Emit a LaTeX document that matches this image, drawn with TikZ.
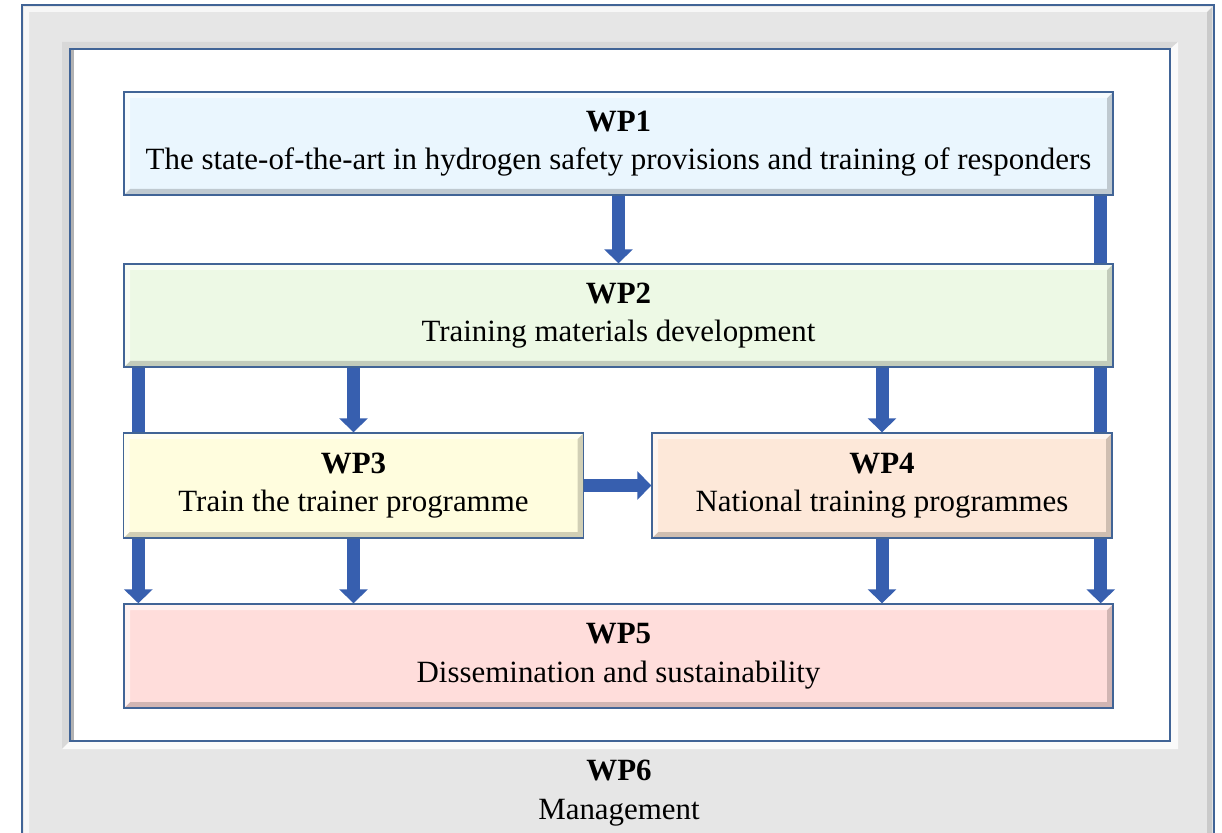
\documentclass[tikz,border=0pt]{standalone}
\usepackage{fontspec}
\setmainfont{Liberation Serif}
\definecolor{WpEdge}{RGB}{65,100,150}
\definecolor{WpArrow}{RGB}{55,95,175}
\definecolor{WpFrame}{RGB}{230,230,230}
\definecolor{WpBlue}{RGB}{234,246,254}
\definecolor{WpGreen}{RGB}{237,249,229}
\definecolor{WpYellow}{RGB}{255,253,222}
\definecolor{WpPeach}{RGB}{253,232,217}
\definecolor{WpPink}{RGB}{255,221,219}
\usepackage{tikz}
\usetikzlibrary{
    arrows.meta,
    positioning,
    calc,
    backgrounds,
}
\pgfdeclarelayer{arrowlayer}
\pgfsetlayers{background,arrowlayer,main}

\tikzset{
    wpbox/.style={draw=WpEdge, line width=0.8pt, align=center,
        font=\fontsize{17.6}{22}\selectfont,
        path picture={
            \fill[black, opacity=0.18] (path picture bounding box.south west)
                -- (path picture bounding box.south east)
                -- (path picture bounding box.north east)
                -- ($(path picture bounding box.north east)+(-0.12,-0.12)$)
                -- ($(path picture bounding box.south east)+(-0.12,0.12)$)
                -- ($(path picture bounding box.south west)+(0.12,0.12)$) -- cycle;
            \fill[white, opacity=0.6] (path picture bounding box.north west)
                -- (path picture bounding box.north east)
                -- ($(path picture bounding box.north east)+(-0.12,-0.12)$)
                -- ($(path picture bounding box.north west)+(0.12,-0.12)$)
                -- ($(path picture bounding box.south west)+(0.12,0.12)$)
                -- (path picture bounding box.south west) -- cycle;
        }},
    widebox/.style={wpbox, minimum width=19.78cm, minimum height=2.06cm},
    halfbox/.style={wpbox, minimum width=9.2cm, minimum height=2.1cm},
    flowarrow/.style={draw=WpArrow, line width=0.26cm,
        -{Triangle[width=0.56cm,length=0.28cm]}},
}

\begin{document}
\begin{tikzpicture}
    \useasboundingbox (0,0) rectangle (24.44,-16.66);
    % frame of WP6
    \begin{pgfonlayer}{background}
        \fill[WpFrame] (0.44,-0.1) rectangle (24.28,-16.8);
        \draw[WpEdge, line width=0.8pt] (0.44,-16.8) -- (0.44,-0.1) -- (24.28,-0.1) -- (24.28,-16.8);
        \fill[white, opacity=0.7] (0.48,-0.14) -- (24.24,-0.14) -- (24.14,-0.24) -- (0.58,-0.24) -- (0.58,-16.8) -- (0.48,-16.8) -- cycle;
        \fill[black, opacity=0.12] (24.24,-0.14) -- (24.24,-16.8) -- (24.14,-16.8) -- (24.14,-0.24) -- cycle;
        \fill[black, opacity=0.06] (1.24,-0.84) -- (23.56,-0.84) -- (23.4,-0.98) -- (1.4,-0.98) -- (1.4,-14.82) -- (1.24,-14.98) -- cycle;
        \fill[white, opacity=0.8] (1.24,-14.98) -- (23.56,-14.98) -- (23.56,-0.84) -- (23.4,-0.98) -- (23.4,-14.82) -- (1.4,-14.82) -- cycle;
        \fill[white] (1.4,-0.98) rectangle (23.4,-14.82);
        \fill[black, opacity=0.3] (1.4,-0.98) rectangle (1.48,-14.82);
        \draw[WpEdge, line width=0.8pt] (1.4,-0.98) rectangle (23.4,-14.82);
    \end{pgfonlayer}

    % work packages
    \node[widebox, fill=WpBlue] (wp1) at (12.37,-2.87)
        {\textbf{WP1}\\The state-of-the-art in hydrogen safety provisions and training of responders};
    \node[widebox, fill=WpGreen] (wp2) at (12.37,-6.31)
        {\textbf{WP2}\\Training materials development};
    \node[halfbox, fill=WpYellow] (wp3) at (7.07,-9.71)
        {\textbf{WP3}\\Train the trainer programme};
    \node[halfbox, fill=WpPeach] (wp4) at (17.64,-9.71)
        {\textbf{WP4}\\National training programmes};
    \node[widebox, fill=WpPink, minimum height=2.08cm] (wp5) at (12.37,-13.12)
        {\textbf{WP5}\\Dissemination and sustainability};
    \node[font=\fontsize{17.6}{22}\selectfont, align=center] (wp6) at (12.38,-15.86)
        {\textbf{WP6}\\Management};

    % links
    \begin{pgfonlayer}{arrowlayer}
        \draw[flowarrow] (wp1.south) -- (wp2.north);
        \draw[flowarrow] ([xshift=-0.26cm]wp1.south east) -- ([xshift=-0.26cm]wp5.north east);
        \draw[flowarrow] ([xshift=0.3cm]wp2.south west) -- ([xshift=0.3cm]wp5.north west);
        \draw[flowarrow] (wp2.south -| wp3) -- (wp3.north);
        \draw[flowarrow] (wp2.south -| wp4) -- (wp4.north);
        \draw[flowarrow] (wp3.south) -- (wp3.south |- wp5.north);
        \draw[flowarrow] (wp4.south) -- (wp4.south |- wp5.north);
        \draw[flowarrow] (wp3.east) -- (wp4.west);
    \end{pgfonlayer}
\end{tikzpicture}
\end{document}
